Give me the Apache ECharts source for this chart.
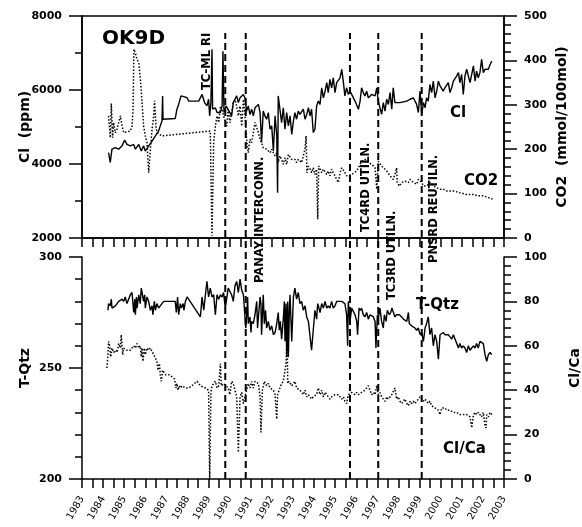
<!DOCTYPE html>
<html>
<head>
<meta charset="utf-8">
<script src="https://cdn.jsdelivr.net/npm/echarts@6/dist/echarts.min.js"></script>
<style>
  html, body { margin: 0; padding: 0; background: #fff; }
  #main { width: 582px; height: 527px; }
</style>
</head>
<body>
<div id="main"></div>
<script>
// Cl (ppm), top panel, left axis
let clData = [
  [1984.26,4310],[1984.34,4040],[1984.42,4400],[1984.58,4440],[1984.74,4400],[1984.90,4490],[1985.02,4650],
  [1985.13,4530],[1985.29,4490],[1985.45,4530],[1985.53,4400],[1985.69,4530],[1985.81,4350],[1985.92,4490],
  [1986.00,4350],[1986.16,4490],[1986.32,4620],[1986.48,4760],[1986.63,4890],[1986.71,5030],[1986.79,5160],
  [1986.82,5840],[1986.84,5210],[1987.42,5230],[1987.50,5480],[1987.58,5610],[1987.69,5840],[1987.82,5820],
  [1987.98,5790],[1988.06,5700],[1988.53,5700],[1988.69,5880],[1988.81,5660],[1988.92,5570],[1989.00,5750],
  [1989.05,5300],[1989.11,5660],[1989.16,7100],[1989.19,5480],[1989.32,5520],[1989.40,5390],[1989.48,5340],
  [1989.56,5390],[1989.64,5570],[1989.68,7050],[1989.73,5390],[1989.83,5570],[1990.09,5300],[1990.17,5660],
  [1990.25,5750],[1990.33,5840],[1990.41,5660],[1990.49,5790],[1990.65,5880],[1990.72,5790],[1990.80,5430],
  [1990.88,5570],[1990.96,5340],[1991.04,5480],[1991.12,5300],[1991.20,5520],[1991.36,5610],[1991.44,5390],
  [1991.51,4580],[1991.59,5430],[1991.67,5300],[1991.75,5210],[1991.83,5390],[1991.91,4940],[1991.99,5030],
  [1992.07,4350],[1992.15,5300],[1992.23,4760],[1992.27,3220],[1992.30,5840],[1992.38,5480],[1992.46,5120],
  [1992.54,5520],[1992.62,4940],[1992.70,5390],[1992.78,5030],[1992.86,5300],[1992.94,4800],[1993.02,5160],
  [1993.09,5390],[1993.17,5210],[1993.25,5430],[1993.33,5340],[1993.41,5300],[1993.49,5480],[1993.57,5210],
  [1993.65,5340],[1993.73,5520],[1993.81,5300],[1993.88,5480],[1993.96,4850],[1994.04,4940],[1994.12,5570],
  [1994.20,5700],[1994.28,5610],[1994.36,6060],[1994.44,5790],[1994.52,5970],[1994.60,6200],[1994.67,5930],
  [1994.75,6290],[1994.83,6060],[1994.91,6330],[1994.99,5930],[1995.07,6200],[1995.15,6200],[1995.23,6330],
  [1995.31,6560],[1995.39,6200],[1995.46,5840],[1995.54,6060],[1995.62,5880],[1995.70,5970],[1995.78,5880],
  [1995.94,5700],[1996.10,5480],[1996.18,5700],[1996.25,6060],[1996.33,5930],[1996.41,5840],[1996.49,5970],
  [1996.57,5790],[1996.73,5880],[1996.89,5840],[1996.97,6060],[1997.04,5700],[1997.12,5520],[1997.20,5340],
  [1997.28,5660],[1997.36,5430],[1997.44,5750],[1997.52,5610],[1997.60,5930],[1997.68,5480],[1997.75,6060],
  [1997.83,5660],[1997.91,5610],[1998.07,5660],[1998.39,5700],[1998.55,5750],[1998.70,5790],[1998.78,5840],
  [1998.86,5610],[1998.94,5390],[1999.02,5970],[1999.10,5340],[1999.18,5660],[1999.26,5520],[1999.33,5790],
  [1999.41,5700],[1999.49,6150],[1999.57,5930],[1999.65,6240],[1999.73,5790],[1999.81,5970],[1999.89,6240],
  [1999.97,6110],[2000.12,5970],[2000.20,6060],[2000.28,6110],[2000.36,6200],[2000.44,5930],[2000.52,6060],
  [2000.60,6240],[2000.68,6200],[2000.76,6380],[2000.84,6470],[2000.91,6200],[2000.99,6420],[2001.07,5880],
  [2001.15,6380],[2001.23,6560],[2001.39,6200],[2001.47,6420],[2001.55,6650],[2001.63,6240],[2001.70,6510],
  [2001.78,6330],[2001.86,6470],[2001.94,6830],[2002.02,6470],[2002.10,6560],[2002.18,6600],[2002.26,6560],
  [2002.34,6690],[2002.42,6780]
];

// CO2 (mmol/100mol), top panel, right axis
let co2Data = [
  [1984.26,275],[1984.34,226],[1984.39,303],[1984.45,226],[1984.50,260],[1984.58,237],[1984.66,245],
  [1984.74,260],[1984.82,275],[1984.90,252],[1984.98,237],[1985.05,233],[1985.29,241],[1985.37,252],
  [1985.42,290],[1985.46,425],[1985.53,417],[1985.61,402],[1985.69,395],[1985.77,357],[1985.84,309],
  [1985.92,252],[1986.00,230],[1986.08,215],[1986.16,147],[1986.24,200],[1986.32,245],[1986.40,275],
  [1986.44,309],[1986.51,248],[1986.56,237],[1986.63,241],[1986.79,230],[1989.08,241],[1989.16,5],
  [1989.24,215],[1989.32,252],[1989.40,275],[1989.48,260],[1989.56,297],[1989.64,290],[1989.71,275],
  [1989.79,275],[1989.86,252],[1989.93,290],[1990.01,260],[1990.09,282],[1990.17,305],[1990.25,312],
  [1990.33,297],[1990.41,275],[1990.49,297],[1990.57,252],[1990.65,312],[1990.72,282],[1990.80,222],
  [1990.88,192],[1990.96,222],[1991.04,215],[1991.12,237],[1991.20,260],[1991.28,263],[1991.36,237],
  [1991.44,222],[1991.51,215],[1991.59,203],[1991.67,207],[1991.75,200],[1991.83,203],[1991.91,192],
  [1991.99,200],[1992.07,192],[1992.15,185],[1992.23,192],[1992.30,170],[1992.38,185],[1992.46,177],
  [1992.54,166],[1992.62,181],[1992.70,166],[1992.78,188],[1992.86,185],[1992.94,177],[1993.02,173],
  [1993.09,177],[1993.17,170],[1993.25,177],[1993.33,173],[1993.41,170],[1993.49,166],[1993.57,200],
  [1993.62,230],[1993.66,147],[1993.73,162],[1993.81,155],[1993.88,147],[1993.96,158],[1994.04,143],
  [1994.12,155],[1994.17,42],[1994.22,162],[1994.28,158],[1994.36,147],[1994.44,155],[1994.52,158],
  [1994.60,143],[1994.67,151],[1994.75,140],[1994.83,155],[1994.91,147],[1994.99,140],[1995.07,132],
  [1995.15,125],[1995.23,147],[1995.31,158],[1995.39,155],[1995.46,147],[1995.54,140],[1995.62,140],
  [1995.78,143],[1995.86,140],[1996.02,151],[1996.10,158],[1996.18,162],[1996.25,173],[1996.41,177],
  [1996.57,170],[1996.73,166],[1996.81,170],[1996.89,158],[1996.97,110],[1997.04,173],[1997.12,170],
  [1997.20,162],[1997.28,158],[1997.44,151],[1997.60,140],[1997.75,132],[1997.83,143],[1997.91,158],
  [1997.94,125],[1998.04,117],[1998.15,125],[1998.31,128],[1998.47,125],[1998.55,132],[1998.70,125],
  [1998.86,121],[1998.94,132],[1999.02,128],[1999.10,125],[1999.18,117],[1999.26,121],[1999.33,117],
  [1999.49,125],[1999.65,117],[1999.81,113],[1999.97,110],[2000.12,110],[2000.28,106],[2000.44,106],
  [2000.60,106],[2000.91,102],[2001.23,98],[2001.55,98],[2001.78,95],[2001.86,91],[2002.02,95],
  [2002.10,95],[2002.26,91],[2002.49,87]
];

// T-Qtz, bottom panel, left axis
let tqtzData = [
  [1984.23,276],[1984.26,279],[1984.34,278],[1984.39,281],[1984.42,277],[1984.50,277],[1984.58,278],
  [1984.66,279],[1984.74,280],[1984.82,280],[1984.90,281],[1984.97,280],[1985.05,282],[1985.13,279],
  [1985.21,281],[1985.29,283],[1985.37,284],[1985.45,275],[1985.50,281],[1985.53,274],[1985.58,282],
  [1985.61,277],[1985.69,283],[1985.76,279],[1985.81,286],[1985.88,286],[1985.92,280],[1985.97,283],
  [1986.00,277],[1986.08,282],[1986.16,280],[1986.24,276],[1986.32,278],[1986.36,274],[1986.43,280],
  [1986.48,276],[1986.55,279],[1986.63,277],[1986.71,278],[1986.79,279],[1986.87,280],[1987.42,280],
  [1987.47,275],[1987.53,282],[1987.58,274],[1987.66,279],[1987.71,277],[1987.79,279],[1987.83,276],
  [1987.90,280],[1987.98,282],[1988.61,273],[1988.69,282],[1988.77,276],[1988.85,283],[1988.92,289],
  [1989.00,282],[1989.08,286],[1989.16,282],[1989.24,283],[1989.32,274],[1989.40,283],[1989.48,281],
  [1989.56,283],[1989.64,282],[1989.71,284],[1989.79,277],[1989.93,286],[1990.09,283],[1990.17,280],
  [1990.25,287],[1990.33,289],[1990.41,284],[1990.49,290],[1990.57,285],[1990.65,283],[1990.72,283],
  [1990.76,268],[1990.80,273],[1990.85,282],[1990.88,270],[1990.96,273],[1991.01,266],[1991.04,271],
  [1991.12,270],[1991.20,274],[1991.28,280],[1991.32,268],[1991.36,273],[1991.44,282],[1991.48,279],
  [1991.51,265],[1991.59,283],[1991.64,270],[1991.70,276],[1991.75,268],[1991.83,271],[1991.91,267],
  [1991.99,269],[1992.07,265],[1992.15,266],[1992.23,270],[1992.30,275],[1992.35,267],[1992.40,271],
  [1992.46,263],[1992.54,272],[1992.59,280],[1992.62,262],[1992.67,279],[1992.70,255],[1992.75,280],
  [1992.78,255],[1992.83,277],[1992.86,283],[1992.94,262],[1993.02,282],[1993.09,286],[1993.17,281],
  [1993.25,284],[1993.33,279],[1993.41,280],[1993.49,276],[1993.57,278],[1993.65,273],[1993.73,271],
  [1993.81,264],[1993.88,258],[1993.96,258],[1994.04,276],[1994.12,272],[1994.17,279],[1994.23,277],
  [1994.28,275],[1994.36,279],[1994.44,277],[1994.52,280],[1994.60,277],[1994.67,278],[1994.75,277],
  [1994.83,280],[1994.91,277],[1994.99,278],[1995.07,280],[1995.15,280],[1995.31,280],[1995.39,280],
  [1995.46,279],[1995.54,274],[1995.59,260],[1995.62,280],[1995.70,271],[1995.78,277],[1995.86,277],
  [1995.94,274],[1996.02,271],[1996.06,265],[1996.13,277],[1996.18,276],[1996.25,277],[1996.33,274],
  [1996.41,273],[1996.49,275],[1996.57,272],[1996.65,274],[1996.73,274],[1996.81,273],[1996.89,271],
  [1996.93,259],[1997.00,274],[1997.04,272],[1997.12,277],[1997.20,271],[1997.28,268],[1997.33,274],
  [1997.41,271],[1997.47,276],[1997.57,274],[1997.63,275],[1997.69,277],[1997.75,277],[1997.83,273],
  [1997.91,274],[1998.04,274],[1998.15,273],[1998.23,272],[1998.39,271],[1998.47,275],[1998.51,270],
  [1998.62,269],[1998.78,268],[1998.86,267],[1998.94,268],[1999.02,265],[1999.10,266],[1999.18,262],
  [1999.26,268],[1999.33,270],[1999.41,273],[1999.49,265],[1999.57,268],[1999.65,260],[1999.73,265],
  [1999.81,262],[1999.89,254],[1999.97,265],[2000.05,265],[2000.12,266],[2000.20,265],[2000.36,265],
  [2000.44,265],[2000.52,263],[2000.60,265],[2000.76,261],[2000.84,259],[2000.91,261],[2000.99,259],
  [2001.07,260],[2001.15,259],[2001.23,257],[2001.31,260],[2001.39,258],[2001.47,259],[2001.55,260],
  [2001.63,259],[2001.70,261],[2001.78,259],[2001.86,262],[2001.94,262],[2002.02,261],[2002.10,256],
  [2002.18,253],[2002.26,256],[2002.34,257],[2002.42,256]
];

// Cl/Ca, bottom panel, right axis
let clcaData = [
  [1984.18,50],[1984.23,56],[1984.26,62],[1984.31,60],[1984.36,55],[1984.42,59],[1984.50,57],[1984.58,58],
  [1984.66,57],[1984.74,61],[1984.82,59],[1984.86,65],[1984.93,56],[1984.97,59],[1985.05,59],[1985.13,58],
  [1985.29,58],[1985.37,59],[1985.45,60],[1985.53,59],[1985.61,61],[1985.69,59],[1985.76,60],[1985.81,55],
  [1985.84,59],[1985.89,53],[1985.95,59],[1986.00,56],[1986.08,59],[1986.16,58],[1986.24,59],[1986.32,59],
  [1986.40,56],[1986.48,56],[1986.55,53],[1986.60,49],[1986.67,52],[1986.71,47],[1986.76,44],[1986.82,49],
  [1986.95,47],[1987.11,47],[1987.27,46],[1987.39,45],[1987.45,41],[1987.50,43],[1987.55,40],[1987.61,42],
  [1987.68,41],[1987.74,42],[1987.90,41],[1988.06,41],[1988.21,42],[1988.45,44],[1988.61,42],[1988.85,41],
  [1989.00,40],[1989.05,0],[1989.11,39],[1989.16,42],[1989.24,43],[1989.32,44],[1989.40,41],[1989.48,42],
  [1989.56,52],[1989.60,42],[1989.71,43],[1989.93,41],[1990.01,38],[1990.09,44],[1990.17,43],[1990.25,40],
  [1990.33,37],[1990.41,12],[1990.49,37],[1990.57,39],[1990.65,34],[1990.72,37],[1990.80,40],[1990.88,43],
  [1990.96,41],[1991.04,44],[1991.12,41],[1991.20,44],[1991.28,44],[1991.36,43],[1991.44,37],[1991.48,21],
  [1991.55,40],[1991.64,44],[1991.75,42],[1991.83,43],[1991.91,41],[1992.07,40],[1992.15,38],[1992.23,27],
  [1992.27,38],[1992.38,41],[1992.46,43],[1992.54,44],[1992.62,44],[1992.67,52],[1992.72,65],[1992.75,43],
  [1992.81,44],[1992.86,44],[1992.94,42],[1993.02,43],[1993.09,44],[1993.17,41],[1993.25,41],[1993.33,40],
  [1993.41,39],[1993.49,38],[1993.57,40],[1993.65,37],[1993.73,38],[1993.81,38],[1993.88,36],[1993.96,37],
  [1994.04,37],[1994.12,38],[1994.20,41],[1994.28,38],[1994.36,40],[1994.44,37],[1994.52,39],[1994.60,38],
  [1994.67,38],[1994.75,36],[1994.83,37],[1994.99,38],[1995.15,38],[1995.23,37],[1995.31,36],[1995.39,37],
  [1995.46,35],[1995.54,34],[1995.62,38],[1995.78,39],[1995.94,38],[1996.02,39],[1996.10,38],[1996.25,39],
  [1996.41,40],[1996.49,41],[1996.57,42],[1996.65,40],[1996.73,38],[1996.81,39],[1996.89,38],[1996.97,42],
  [1997.04,38],[1997.12,39],[1997.20,37],[1997.28,36],[1997.36,35],[1997.44,37],[1997.52,36],[1997.60,37],
  [1997.68,38],[1997.75,38],[1997.83,41],[1997.91,36],[1997.99,37],[1998.07,35],[1998.15,34],[1998.23,35],
  [1998.31,36],[1998.39,34],[1998.47,33],[1998.55,35],[1998.62,34],[1998.70,35],[1998.78,34],[1998.86,35],
  [1998.94,36],[1999.02,37],[1999.10,37],[1999.18,35],[1999.26,36],[1999.33,35],[1999.41,34],[1999.49,35],
  [1999.57,33],[1999.65,33],[1999.73,32],[1999.81,32],[1999.89,31],[1999.97,29],[2000.05,32],[2000.12,32],
  [2000.20,32],[2000.28,31],[2000.44,31],[2000.60,30],[2000.76,30],[2000.91,29],[2001.07,29],[2001.23,29],
  [2001.39,28],[2001.47,23],[2001.55,29],[2001.63,30],[2001.70,29],[2001.78,30],[2001.86,29],[2001.94,28],
  [2002.02,30],[2002.10,24],[2002.15,23],[2002.18,29],[2002.26,28],[2002.34,30],[2002.42,29]
];

// events (vertical dashed lines)
let eventYears = [1989.79, 1990.76, 1995.70, 1997.04, 1999.10];
let eventNames = ['TC-ML RI', 'PANAY INTERCONN.', 'TC4RD UTILN.', 'TC3RD UTILN.', 'PNSRD REUTILN.'];

let font = 'DejaVu Sans';
let chart = echarts.init(document.getElementById('main'), null, {renderer: 'canvas'});

let plain = function (v) { return String(v); };

function yAx(grid, pos, min, max, step, split, name, gap) {
    return {
        type: 'value', gridIndex: grid, position: pos, min: min, max: max, interval: step,
        name: name, nameLocation: 'middle', nameGap: gap, nameRotate: 90, nameMoveOverlap: false,
        nameTextStyle: {color: '#000', fontFamily: font, fontWeight: 'bold', fontSize: 14},
        axisLine: {show: true, onZero: false, lineStyle: {color: '#000', width: 1.5}},
        axisTick: {show: true, inside: false, length: 13, lineStyle: {color: '#000', width: 1.5}},
        minorTick: {show: true, splitNumber: split, length: 7, lineStyle: {color: '#000', width: 1.5}},
        splitLine: {show: false},
        axisLabel: {color: '#000', fontFamily: font, fontWeight: 'bold', fontSize: 11, margin: 20, formatter: plain}
    };
}

function xAx(grid, labels) {
    return {
        type: 'value', gridIndex: grid, min: 1983, max: 2003, interval: 1,
        axisLine: {show: true, onZero: false, lineStyle: {color: '#000', width: 1.5}},
        axisTick: {show: true, inside: false, length: 9, lineStyle: {color: '#000', width: 1.5}},
        minorTick: {show: true, splitNumber: 2, length: 9, lineStyle: {color: '#000', width: 1.5}},
        splitLine: {show: false},
        axisLabel: {show: labels, rotate: 60, color: '#000', fontFamily: font, fontSize: 10, margin: 18, formatter: plain}
    };
}

let solid = {color: '#000', width: 1.4};
let dotted = {color: '#000', width: 1.5, type: [1.5, 1.8]};

let series = [
    {type: 'line', xAxisIndex: 0, yAxisIndex: 0, data: clData, symbol: 'none', lineStyle: solid},
    {type: 'line', xAxisIndex: 0, yAxisIndex: 1, data: co2Data, symbol: 'none', lineStyle: dotted},
    {type: 'line', xAxisIndex: 1, yAxisIndex: 2, data: tqtzData, symbol: 'none', lineStyle: solid},
    {type: 'line', xAxisIndex: 1, yAxisIndex: 3, data: clcaData, symbol: 'none', lineStyle: dotted}
];
eventYears.forEach(function (yr) {
    series.push({
        type: 'line', xAxisIndex: 2, yAxisIndex: 4, symbol: 'none',
        data: [[yr, 0], [yr, 1]],
        lineStyle: {color: '#000', width: 2, type: [7, 4]}
    });
});

let option = {
    animation: false,
    backgroundColor: '#fff',
    grid: [
        {left: 82, right: 78, top: 16, height: 222, outerBoundsMode: 'none',
         show: true, borderColor: '#000', borderWidth: 1.5},
        {left: 82, right: 78, top: 257, height: 222, outerBoundsMode: 'none'},
        {left: 82, right: 78, top: 33, bottom: 48, outerBoundsMode: 'none'}
    ],
    xAxis: [
        xAx(0, false),
        xAx(1, true),
        {type: 'value', gridIndex: 2, min: 1983, max: 2003, show: false}
    ],
    yAxis: [
        yAx(0, 'left', 2000, 8000, 2000, 2, 'Cl  (ppm)', 50),
        yAx(0, 'right', 0, 500, 100, 5, 'CO2  (mmol/100mol)', 51),
        yAx(1, 'left', 200, 300, 50, 5, 'T-Qtz', 50),
        yAx(1, 'right', 0, 100, 20, 5, 'Cl/Ca', 64),
        {type: 'value', gridIndex: 2, min: 0, max: 1, show: false}
    ],
    series: series
};
chart.setOption(option);

// text annotations
let txt = function (x, y, s, size, rot, align) {
    return {
        type: 'text', x: x, y: y, rotation: rot || 0, z: 100,
        style: {text: s, fill: '#000', font: 'bold ' + size + 'px "' + font + '"',
                textAlign: align || 'left', textVerticalAlign: 'middle'}
    };
};
let labelOffsets = [-18, 14, 16, 14, 12];
let labelBottoms = [90, 283, 232, 300, 263];
let graphics = [
    txt(102, 39, 'OK9D', 20),
    txt(450, 113, 'Cl', 15),
    txt(464, 181, 'CO2', 15),
    txt(416, 305, 'T-Qtz', 15),
    txt(443, 449, 'Cl/Ca', 15)
];
eventYears.forEach(function (yr, i) {
    let px = chart.convertToPixel({xAxisIndex: 2}, yr);
    graphics.push(txt(px + labelOffsets[i], labelBottoms[i], eventNames[i], 11.5, Math.PI / 2));
});
chart.setOption({graphic: graphics});
</script>
</body>
</html>
